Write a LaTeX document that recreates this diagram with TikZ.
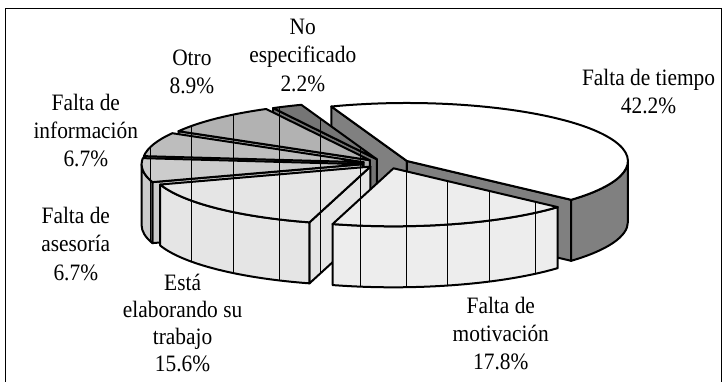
\documentclass[tikz,border=0pt]{standalone}
\usepackage{fontspec}
\setmainfont[FakeStretch=0.91]{Liberation Serif}
\usetikzlibrary{calc}
\definecolor{cTiempoWall}{gray}{0.5}
\definecolor{cMotiv}{gray}{0.93}
\definecolor{cElab}{gray}{0.9}
\definecolor{cAses}{gray}{0.8}
\definecolor{cInfo}{gray}{0.74}
\definecolor{cOtro}{gray}{0.7}
\definecolor{cNoesp}{gray}{0.46}
\newcommand\topface[4]{%
  \filldraw[#4] (#1) -- ++(#2:221pt and 58pt) arc[start angle=#2,end angle=#3,x radius=221pt,y radius=58pt] -- cycle;}
\newcommand\outerwall[4]{%
  \filldraw[#4] ([shift={(#2:221pt and 58pt)}]#1) arc[start angle=#2,end angle=#3,x radius=221pt,y radius=58pt] -- ++(0,-61) arc[start angle=#3,end angle=#2,x radius=221pt,y radius=58pt] -- cycle;}
\newcommand\radwall[3]{%
  \filldraw[#3] (#1) -- ++(#2:221pt and 58pt) -- ++(0,-61) -- ([yshift=-61pt]#1) -- cycle;}
\tikzset{
  face/.style={draw=black,line width=2pt,line join=round},
  vl/.style={path picture={\foreach \xx in {150,191.7,233.3,279.3,320,360,406.7,447.7,489,535}
      \draw[line width=0.8pt] (\xx,-60) -- (\xx,-330);}},
  lbl/.style={anchor=base,font=\fontsize{23.5}{28}\selectfont,inner sep=0pt}
}
\begin{document}
\begin{tikzpicture}[x=1pt,y=1pt]
\useasboundingbox (0,0) rectangle (725,-381);
\draw[line width=1pt] (5.5,-390) -- (5.5,-8) -- (721,-8) -- (721,-390);
% apexes of the exploded slices
\coordinate (T) at (406.9,-161.0);
\coordinate (M) at (393.5,-168.3);
\coordinate (E) at (370.4,-166.6);
\coordinate (A) at (362.6,-164.2);
\coordinate (I) at (363.7,-162.2);
\coordinate (O) at (369.9,-160.2);
\coordinate (N) at (376.9,-159.3);
% Falta de tiempo
\radwall{T}{110}{face,fill=cTiempoWall}
\radwall{T}{-42}{face,fill=cTiempoWall}
\outerwall{T}{-42}{0}{face,fill=cTiempoWall}
\topface{T}{110}{-42}{face,fill=white}
% No especificado
\radwall{N}{118}{face,fill=cNoesp,vl}
\topface{N}{118}{110}{face,fill=cNoesp,vl}
% Otro
\radwall{O}{150}{face,fill=cOtro,vl}
\topface{O}{150}{118}{face,fill=cOtro,vl}
% Falta de informacion
\radwall{I}{174}{face,fill=cInfo,vl}
\topface{I}{174}{150}{face,fill=cInfo,vl}
% Falta de asesoria
\radwall{A}{198}{face,fill=cAses,vl}
\outerwall{A}{198}{180}{face,fill=cAses,vl}
\topface{A}{198}{174}{face,fill=cAses,vl}
% Esta elaborando su trabajo
\radwall{E}{254}{face,fill=cElab,vl}
\outerwall{E}{254}{198}{face,fill=cElab,vl}
\topface{E}{254}{198}{face,fill=cElab,vl}
% Falta de motivacion
\outerwall{M}{318}{254}{face,fill=cMotiv,vl}
\topface{M}{318}{254}{face,fill=cMotiv,vl}
% labels (one node per printed line, placed on its baseline)
\node[lbl] (lT1) at (648.6,-85) {Falta de tiempo};
\node[lbl] (lT2) at (648.6,-113) {42.2\%};
\node[lbl] (lN1) at (302.8,-34) {No};
\node[lbl] (lN2) at (302.8,-62.5) {especificado};
\node[lbl] (lN3) at (302.8,-91) {2.2\%};
\node[lbl] (lO1) at (191.9,-65) {Otro};
\node[lbl] (lO2) at (191.9,-93) {8.9\%};
\node[lbl] (lI1) at (85.8,-110.7) {Falta de};
\node[lbl] (lI2) at (85.8,-138.5) {información};
\node[lbl] (lI3) at (85.8,-166.5) {6.7\%};
\node[lbl] (lA1) at (75.8,-223.3) {Falta de};
\node[lbl] (lA2) at (75.8,-251.5) {asesoría};
\node[lbl] (lA3) at (75.8,-280) {6.7\%};
\node[lbl] (lE1) at (182.6,-290) {Está};
\node[lbl] (lE2) at (182.6,-317.3) {elaborando su};
\node[lbl] (lE3) at (182.6,-344.6) {trabajo};
\node[lbl] (lE4) at (182.6,-371.9) {15.6\%};
\node[lbl] (lM1) at (500.8,-313.3) {Falta de};
\node[lbl] (lM2) at (500.8,-341.5) {motivación};
\node[lbl] (lM3) at (500.8,-369.5) {17.8\%};
\end{tikzpicture}
\end{document}
